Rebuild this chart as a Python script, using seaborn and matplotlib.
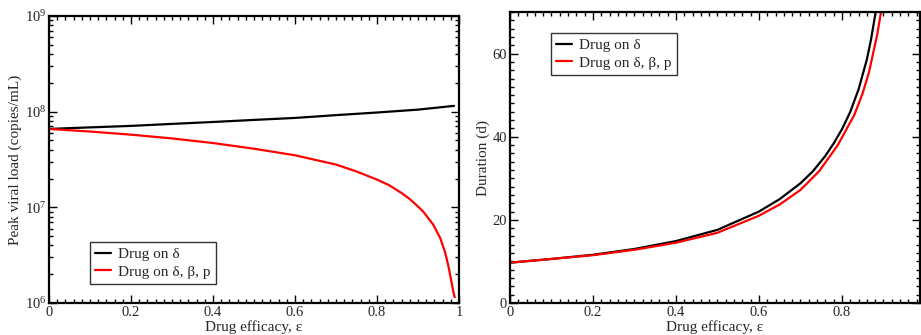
"""
Peak viral load and infection duration vs drug efficacy
"""
import numpy as np
import pandas as pd
import matplotlib
matplotlib.use('Agg')
import matplotlib.pyplot as plt
from matplotlib.ticker import MultipleLocator, LogLocator, LogFormatterMathtext, NullFormatter
import seaborn as sns

# ── data ──
labels = ['Drug on δ', 'Drug on δ, β, p']
colors = ['black', 'red']

peak_eps_d = [0, 0.1, 0.2, 0.3, 0.4, 0.5, 0.6, 0.7, 0.8, 0.9, 0.988]
peak_d = [6.6e7, 6.85e7, 7.1e7, 7.45e7, 7.8e7, 8.2e7, 8.6e7, 9.2e7, 9.8e7, 1.05e8, 1.15e8]

peak_eps_all = [0, 0.1, 0.2, 0.3, 0.4, 0.5, 0.6, 0.7, 0.75, 0.8, 0.83, 0.86, 0.88, 0.9,
                0.913, 0.937, 0.954, 0.966, 0.974, 0.98, 0.986, 0.9895]
peak_all = [6.6e7, 6.2e7, 5.75e7, 5.25e7, 4.7e7, 4.1e7, 3.5e7, 2.8e7, 2.37e7, 1.95e7,
            1.70e7, 1.41e7, 1.22e7, 1.02e7, 9.0e6, 6.6e6, 4.8e6, 3.4e6, 2.45e6, 1.82e6,
            1.32e6, 1.15e6]

dur_eps_d = [0, 0.1, 0.2, 0.3, 0.4, 0.5, 0.6, 0.65, 0.7, 0.73, 0.76, 0.78, 0.8, 0.82,
             0.84, 0.86, 0.87, 0.88, 0.885]
dur_d = [9.7, 10.6, 11.6, 13.0, 14.9, 17.6, 22.0, 25.0, 28.8, 31.7, 35.4, 38.4, 41.8,
         46.0, 51.4, 58.6, 63.4, 69.3, 72.8]

dur_eps_all = [0, 0.1, 0.2, 0.3, 0.4, 0.5, 0.6, 0.65, 0.7, 0.745, 0.79, 0.83, 0.85,
               0.865, 0.885, 0.9]
dur_all = [9.7, 10.6, 11.5, 12.8, 14.5, 16.9, 21.0, 23.7, 27.2, 31.7, 38.0, 45.3, 50.5,
           55.5, 64.6, 73.5]

peak_df = pd.concat([
    pd.DataFrame({'eps': peak_eps_d, 'val': peak_d, 'drug': labels[0]}),
    pd.DataFrame({'eps': peak_eps_all, 'val': peak_all, 'drug': labels[1]}),
])
dur_df = pd.concat([
    pd.DataFrame({'eps': dur_eps_d, 'val': dur_d, 'drug': labels[0]}),
    pd.DataFrame({'eps': dur_eps_all, 'val': dur_all, 'drug': labels[1]}),
])

sns.set_style('ticks')
plt.rcParams['font.family'] = ['Liberation Serif', 'DejaVu Sans']
plt.rcParams['mathtext.fontset'] = 'stix'
plt.rcParams['font.size'] = 10.5

fig = plt.figure(figsize=(9.21, 3.35), dpi=100)
ax1 = fig.add_axes([49 / 921, 32 / 335, 410 / 921, 287 / 335])
ax2 = fig.add_axes([510 / 921, 32 / 335, 410 / 921, 291 / 335])
pal = dict(zip(labels, colors))

sns.lineplot(data=peak_df, x='eps', y='val', hue='drug', palette=pal, sort=False,
             estimator=None, lw=1.6, ax=ax1)
sns.lineplot(data=dur_df, x='eps', y='val', hue='drug', palette=pal, sort=False,
             estimator=None, lw=1.6, ax=ax2)

ax1.set_yscale('log')
ax1.set_xlim(0, 1)
ax1.set_ylim(1e6, 1e9)
ax1.xaxis.set_major_locator(MultipleLocator(0.2))
ax1.xaxis.set_minor_locator(MultipleLocator(0.02))
ax1.xaxis.set_major_formatter(plt.FuncFormatter(lambda v, p: f'{v:g}'))
ax1.yaxis.set_major_locator(LogLocator(base=10, numticks=10))
ax1.yaxis.set_major_formatter(LogFormatterMathtext())
ax1.yaxis.set_minor_locator(LogLocator(base=10, subs=np.arange(2, 10), numticks=20))
ax1.yaxis.set_minor_formatter(NullFormatter())
ax1.set_xlabel('Drug efficacy, ε', labelpad=1, fontsize=11)
ax1.set_ylabel('Peak viral load (copies/mL)', labelpad=2, fontsize=11)

ax2.set_xlim(0, 0.988)
ax2.set_ylim(0, 70)
ax2.xaxis.set_major_locator(MultipleLocator(0.2))
ax2.xaxis.set_minor_locator(MultipleLocator(0.02))
ax2.xaxis.set_major_formatter(plt.FuncFormatter(lambda v, p: f'{v:g}'))
ax2.yaxis.set_major_locator(MultipleLocator(20))
ax2.yaxis.set_minor_locator(MultipleLocator(2))
ax2.set_xlabel('Drug efficacy, ε', labelpad=1, fontsize=11)
ax2.set_ylabel('Duration (d)', labelpad=2, fontsize=11)

for ax in (ax1, ax2):
    for s in ax.spines.values():
        s.set_linewidth(1.6)
        s.set_color('black')
    ax.tick_params(which='both', direction='in', top=True, right=True, color='black',
                   width=1.0, labelsize=10.5, pad=2)
    ax.tick_params(which='major', length=6)
    ax.tick_params(which='minor', length=3)

leg_kw = dict(frameon=True, fancybox=False, handlelength=1.0, handletextpad=0.5,
              borderpad=0.35, labelspacing=0.25, borderaxespad=0, fontsize=11)
leg1 = ax1.legend(loc='lower left', bbox_to_anchor=(0.1, 0.066), **leg_kw)
leg2 = ax2.legend(loc='upper left', bbox_to_anchor=(0.1, 0.928), **leg_kw)
for leg in (leg1, leg2):
    leg.get_frame().set_edgecolor('black')
    leg.get_frame().set_linewidth(1.0)

fig.savefig('out.png', dpi=100)
